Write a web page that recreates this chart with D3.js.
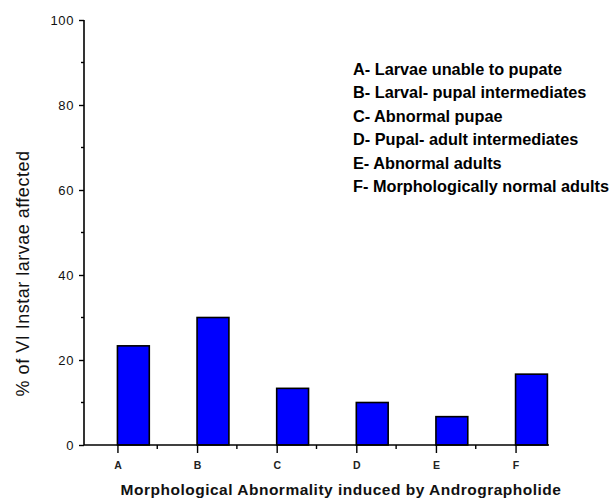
<!DOCTYPE html>
<html><head><meta charset="utf-8">
<script src="https://cdn.jsdelivr.net/npm/d3@7"></script>
<style>body{margin:0;background:#fff}svg{display:block}text{font-family:Arial,"Liberation Sans",sans-serif}</style>
</head><body>
<script>
const categories = ["A","B","C","D","E","F"];
const values = [23.33, 30, 13.33, 10, 6.67, 16.67];
const yTicks = [0, 20, 40, 60, 80, 100];
const yMinorTicks = [10, 30, 50, 70, 90];
const legendLines = [
  "A- Larvae unable to pupate",
  "B- Larval- pupal intermediates",
  "C- Abnormal pupae",
  "D- Pupal- adult intermediates",
  "E- Abnormal adults",
  "F- Morphologically normal adults"
];
const xTitle = "Morphological Abnormality induced by Andrographolide";
const yTitle = "% of VI Instar larvae affected";

const W = 611, H = 498;
const svg = d3.select("body").append("svg").attr("width", W).attr("height", H);

const x = d3.scaleLinear().domain([-0.42, 5.42]).range([84, 549]);
const y = d3.scaleLinear().domain([0, 100]).range([445, 20]);
const barW = x(0.4) - x(0);

// bars
svg.append("g").selectAll("rect").data(values).join("rect")
  .attr("x", (d, i) => x(i))
  .attr("y", d => y(d))
  .attr("width", barW)
  .attr("height", d => y(0) - y(d))
  .attr("fill", "#0000ff")
  .attr("stroke", "#000")
  .attr("stroke-width", 1.6);

// y axis
const yAxis = svg.append("g").attr("transform", "translate(84,0)")
  .call(d3.axisLeft(y).tickValues(yTicks).tickSize(5).tickPadding(5).tickFormat(d3.format("d")));
yAxis.select(".domain").attr("stroke-width", 1.6).attr("d", `M0,${y(100)}V${y(0)}`);
yAxis.selectAll(".tick line").attr("stroke-width", 1.4);
yAxis.selectAll(".tick text").attr("font-size", 13).attr("letter-spacing", 0.6).attr("fill", "#111").style("font-family", "Arial, 'Liberation Sans', sans-serif");
svg.append("g").attr("transform", "translate(84,0)").selectAll("line").data(yMinorTicks).join("line")
  .attr("x1", -3).attr("x2", 0).attr("y1", d => y(d)).attr("y2", d => y(d))
  .attr("stroke", "#000").attr("stroke-width", 1.4);

// x axis
const xAxis = svg.append("g").attr("transform", `translate(0,${y(0)})`)
  .call(d3.axisBottom(x).tickValues(d3.range(categories.length)).tickSize(8).tickPadding(9).tickFormat(i => categories[i]));
xAxis.select(".domain").attr("stroke-width", 1.6).attr("d", `M84,0H549`);
xAxis.selectAll(".tick line").attr("stroke-width", 1.4);
xAxis.selectAll(".tick text").attr("font-size", 10.5).attr("font-weight", "bold").attr("fill", "#222").style("font-family", "Arial, 'Liberation Sans', sans-serif");
svg.append("g").attr("transform", `translate(0,${y(0)})`).selectAll("line").data(d3.range(categories.length - 1).map(i => i + 0.5)).join("line")
  .attr("x1", d => x(d)).attr("x2", d => x(d)).attr("y1", 0).attr("y2", 4)
  .attr("stroke", "#000").attr("stroke-width", 1.4);

// legend text
svg.append("g").selectAll("text").data(legendLines).join("text")
  .attr("x", 353).attr("y", (d, i) => 74.5 + i * 23.5)
  .attr("font-size", 16.3).attr("font-weight", "bold").attr("fill", "#000")
  .text(d => d);

// axis titles
svg.append("text").attr("x", 341).attr("y", 495).attr("text-anchor", "middle")
  .attr("font-size", 15.5).attr("letter-spacing", 0.5).attr("font-weight", "bold").attr("fill", "#111").text(xTitle);
svg.append("text").attr("transform", "translate(29,273.5) rotate(-90)").attr("text-anchor", "middle")
  .attr("font-size", 18).attr("letter-spacing", 0.5).attr("fill", "#111").text(yTitle);
</script>
</body></html>
